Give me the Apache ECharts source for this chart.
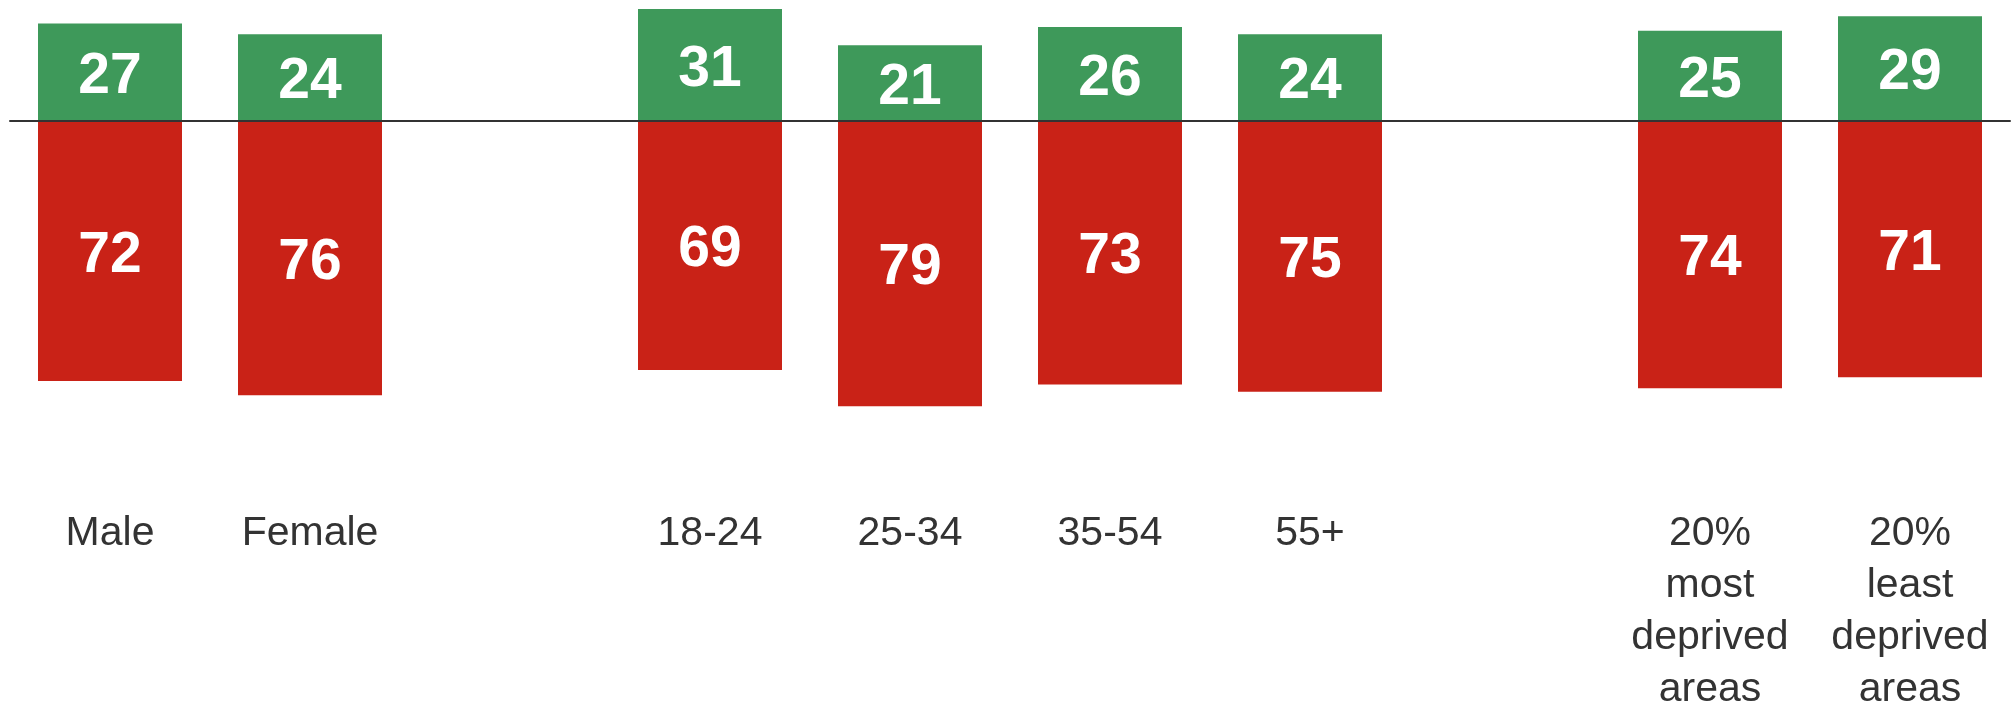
<!DOCTYPE html>
<html>
<head>
<meta charset="utf-8">
<script src="https://cdn.jsdelivr.net/npm/echarts@6/dist/echarts.min.js"></script>
<style>
html,body{margin:0;padding:0;background:#fff;}
#chart{width:2015px;height:704px;}
</style>
</head>
<body>
<div id="chart"></div>
<script>
const categories = ['Male', 'Female', '', '18-24', '25-34', '35-54', '55+', '', '20%\nmost\ndeprived\nareas', '20%\nleast\ndeprived\nareas'];
const greenValues = [27, 24, null, 31, 21, 26, 24, null, 25, 29];
const redValues = [72, 76, null, 69, 79, 73, 75, null, 74, 71];

const chart = echarts.init(document.getElementById('chart'), null, {renderer: 'canvas'});
const labelStyle = {
  show: true,
  position: 'inside',
  offset: [0, 5],
  color: '#ffffff',
  fontFamily: '"Liberation Sans", Arial, sans-serif',
  fontWeight: 'bold',
  fontSize: 57,
  formatter: p => Math.abs(p.value)
};
chart.setOption({
  animation: false,
  backgroundColor: '#ffffff',
  grid: {left: 10, right: 5, top: 0, bottom: 222, containLabel: false, outerBoundsMode: 'none'},
  xAxis: [
    {
      type: 'category',
      data: categories,
      position: 'bottom',
      z: 10,
      axisLine: {show: true, onZero: true, lineStyle: {color: '#333333', width: 2}},
      axisTick: {show: false},
      axisLabel: {show: false}
    },
    {
      type: 'category',
      data: categories,
      position: 'bottom',
      axisLine: {show: false, onZero: false},
      axisTick: {show: false},
      axisLabel: {
        show: true,
        interval: 0,
        margin: 26,
        color: '#333333',
        fontFamily: '"Liberation Sans", Arial, sans-serif',
        fontSize: 41,
        lineHeight: 52,
        align: 'center'
      }
    }
  ],
  yAxis: {
    type: 'value',
    min: -100,
    max: 33.5,
    show: false,
    splitLine: {show: false}
  },
  series: [
    {
      type: 'bar',
      name: 'green',
      xAxisIndex: 0,
      data: greenValues,
      barWidth: 144,
      barGap: '-100%',
      itemStyle: {color: '#3E995A'},
      label: labelStyle
    },
    {
      type: 'bar',
      name: 'red',
      xAxisIndex: 0,
      data: redValues.map(v => v === null ? null : -v),
      barWidth: 144,
      barGap: '-100%',
      itemStyle: {color: '#C92217'},
      label: labelStyle
    }
  ]
});
</script>
</body>
</html>
